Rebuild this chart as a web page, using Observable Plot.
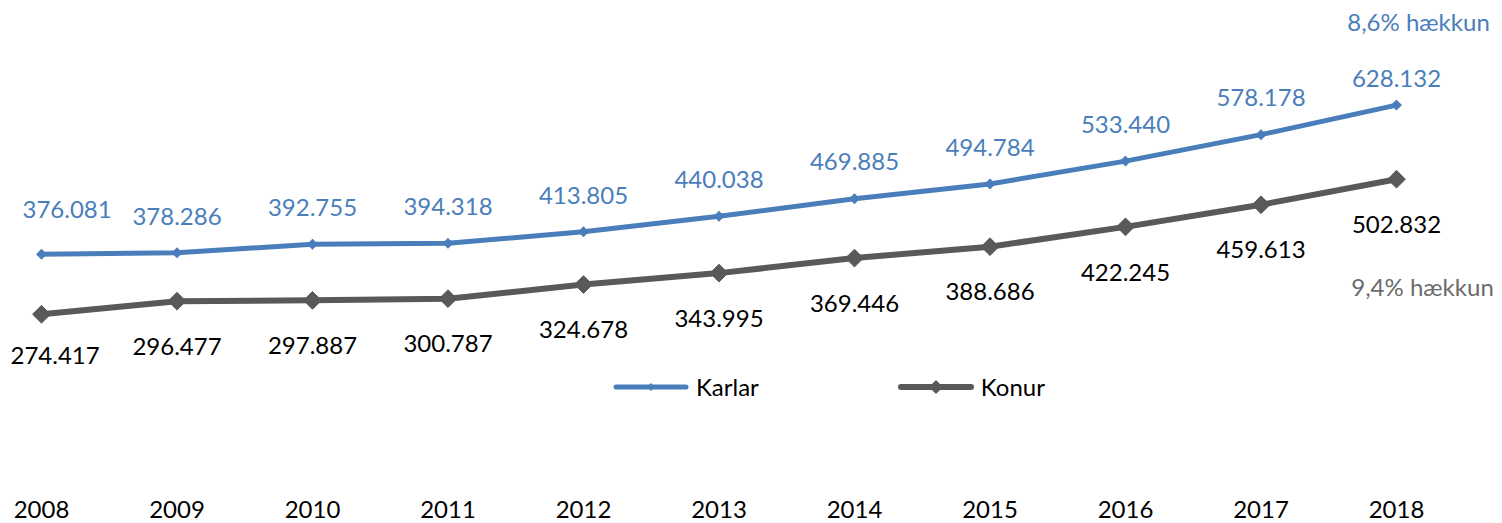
<!DOCTYPE html>
<html>
<head>
<meta charset="utf-8">
<script src="https://cdn.jsdelivr.net/npm/d3@7"></script>
<script src="https://cdn.jsdelivr.net/npm/@observablehq/plot@0.6"></script>
<style>
  html, body { margin: 0; padding: 0; background: #fff; }
  #wrap { position: relative; width: 1502px; height: 523px; font-family: Lato, "Open Sans", sans-serif; }
  #legend { position: absolute; left: 612px; top: 372px; display: flex; align-items: center; font-size: 24px; color: #000; }
  #legend .item { display: flex; align-items: center; }
  #legend svg { margin-right: 6px; }
</style>
</head>
<body>
<div id="wrap">
  <div id="chart"></div>
  <div id="legend"></div>
</div>
<script>
const years = [2008, 2009, 2010, 2011, 2012, 2013, 2014, 2015, 2016, 2017, 2018];
const karlar = [376081, 378286, 392755, 394318, 413805, 440038, 469885, 494784, 533440, 578178, 628132];
const konur  = [274417, 296477, 297887, 300787, 324678, 343995, 369446, 388686, 422245, 459613, 502832];
const seriesNames = ["Karlar", "Konur"];
const annotations = ["8,6% hækkun", "9,4% hækkun"];

const blue = "#4a7ebb";
const gray = "#595959";
const fmt = d3.format(",");
const isl = v => fmt(v).replace(/,/g, ".");

const kData = years.map((y, i) => ({ year: y, value: karlar[i], label: isl(karlar[i]) }));
const wData = years.map((y, i) => ({ year: y, value: konur[i], label: isl(konur[i]) }));
const n = years.length;

const chart = Plot.plot({
  width: 1502,
  height: 523,
  marginLeft: 41,
  marginRight: 106,
  marginTop: 3,
  marginBottom: 47,
  style: { fontFamily: "Lato, 'Open Sans', sans-serif", fontSize: "24px", color: "#000", background: "#fff", overflow: "visible" },
  x: { domain: [2008, 2018], label: null },
  y: { domain: [0, 800000], axis: null },
  marks: [
    Plot.axisX({ ticks: years, tickFormat: d => String(d), tickSize: 0, tickPadding: 24, fontSize: 24, label: null, fill: "#000" }),
    Plot.line(wData, { x: "year", y: "value", stroke: gray, strokeWidth: 6 }),
    Plot.dot(wData, { x: "year", y: "value", symbol: "diamond2", r: 8, fill: gray, stroke: gray, strokeWidth: 1 }),
    Plot.line(kData, { x: "year", y: "value", stroke: blue, strokeWidth: 5 }),
    Plot.dot(kData, { x: "year", y: "value", symbol: "diamond2", r: 4, fill: blue, stroke: blue }),
    // value labels
    Plot.text(kData.slice(1, n - 1), { x: "year", y: "value", text: "label", dy: -36, fill: blue, fontSize: 24 }),
    Plot.text(kData.slice(n - 1), { x: "year", y: "value", text: "label", dy: -26, fill: blue, fontSize: 24 }),
    Plot.text(kData.slice(0, 1), { x: "year", y: "value", text: "label", dy: -44, dx: -19, textAnchor: "start", fill: blue, fontSize: 24 }),
    Plot.text(wData.slice(1), { x: "year", y: "value", text: "label", dy: 46, fill: "#000", fontSize: 24 }),
    Plot.text(wData.slice(0, 1), { x: "year", y: "value", text: "label", dy: 42, dx: -31, textAnchor: "start", fill: "#000", fontSize: 24 }),
    // growth annotations
    Plot.text(kData.slice(n - 1), { x: "year", y: "value", text: () => annotations[0], dx: 22, dy: -82, fill: blue, fontSize: 24 }),
    Plot.text(wData.slice(n - 1), { x: "year", y: "value", text: () => annotations[1], dx: 26, dy: 109, fill: "#6b6b6b", fontSize: 24 })
  ]
});
document.getElementById("chart").appendChild(chart);

// legend
const legend = document.getElementById("legend");
const legendSpec = [
  { name: seriesNames[0], color: blue, sw: 5, r: 4, gap: 0 },
  { name: seriesNames[1], color: gray, sw: 6, r: 7, gap: 138 }
];
legendSpec.forEach(s => {
  const item = document.createElement("div");
  item.className = "item";
  item.style.marginLeft = s.gap + "px";
  item.innerHTML = `<svg width="78" height="24" viewBox="0 0 78 24">
      <line x1="4" y1="12" x2="74" y2="12" stroke="${s.color}" stroke-width="${s.sw}" stroke-linecap="round"/>
      <path d="M39 ${12 - s.r} L${39 + s.r} 12 L39 ${12 + s.r} L${39 - s.r} 12 Z" fill="${s.color}"/>
    </svg><span>${s.name}</span>`;
  legend.appendChild(item);
});
</script>
</body>
</html>
